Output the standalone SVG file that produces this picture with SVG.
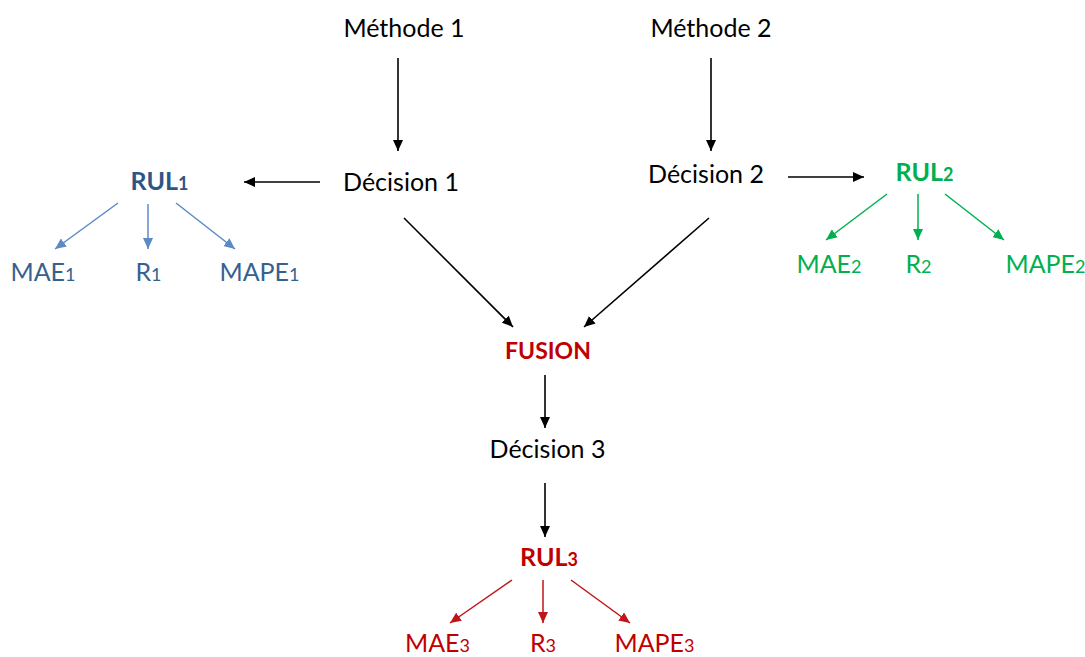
<svg xmlns="http://www.w3.org/2000/svg" width="1085" height="657" viewBox="0 0 1085 657">
<style>
text{font-family:Lato,"Open Sans","Noto Sans",sans-serif;font-size:25px;text-anchor:middle}
.b{font-weight:bold}
.k{fill:#000}
.blue{fill:#2F5587}
.blue2{fill:#35618F}
.green{fill:#00B050}
.red{fill:#C00000}
.s{font-size:18px}
.f{font-size:23px}
.ck{stroke:#000;stroke-width:1.6;fill:none;marker-end:url(#ak)}
.cb{stroke:#5B8AC4;stroke-width:1.5;fill:none;marker-end:url(#ab)}
.cg{stroke:#00B050;stroke-width:1.5;fill:none;marker-end:url(#ag)}
.cr{stroke:#C0141A;stroke-width:1.5;fill:none;marker-end:url(#ar)}
</style>
<defs>
<marker id="ak" markerUnits="userSpaceOnUse" markerWidth="12" markerHeight="10" refX="11" refY="5" orient="auto"><path d="M0,0 L11,5 L0,10 Z" fill="#000"/></marker>
<marker id="ab" markerUnits="userSpaceOnUse" markerWidth="12" markerHeight="10" refX="11" refY="5" orient="auto"><path d="M0,0 L11,5 L0,10 Z" fill="#5B8AC4"/></marker>
<marker id="ag" markerUnits="userSpaceOnUse" markerWidth="12" markerHeight="10" refX="11" refY="5" orient="auto"><path d="M0,0 L11,5 L0,10 Z" fill="#00B050"/></marker>
<marker id="ar" markerUnits="userSpaceOnUse" markerWidth="12" markerHeight="10" refX="11" refY="5" orient="auto"><path d="M0,0 L11,5 L0,10 Z" fill="#C0141A"/></marker>
</defs>
<g id="connectors">
<line class="ck" x1="398" y1="58" x2="398" y2="151"/>
<line class="ck" x1="711" y1="58" x2="711" y2="151"/>
<line class="ck" x1="320" y1="182" x2="244" y2="182"/>
<line class="ck" x1="788" y1="177" x2="864" y2="177"/>
<line class="ck" x1="404" y1="218" x2="513" y2="327"/>
<line class="ck" x1="709" y1="218" x2="584" y2="327"/>
<line class="ck" x1="545" y1="375" x2="545" y2="428"/>
<line class="ck" x1="545" y1="483" x2="545" y2="537"/>
<line class="cb" x1="118" y1="203" x2="55" y2="249"/>
<line class="cb" x1="148" y1="204" x2="148" y2="249"/>
<line class="cb" x1="176" y1="203" x2="235" y2="249"/>
<line class="cg" x1="887" y1="194" x2="826" y2="240"/>
<line class="cg" x1="918" y1="194" x2="918" y2="240"/>
<line class="cg" x1="945" y1="194" x2="1004" y2="240"/>
<line class="cr" x1="512" y1="580" x2="450" y2="623"/>
<line class="cr" x1="543" y1="580" x2="543" y2="623"/>
<line class="cr" x1="571" y1="580" x2="630" y2="623"/>
</g>
<g id="methode1"><text class="k" x="404" y="37">Méthode 1</text></g>
<g id="methode2"><text class="k" x="711" y="37">Méthode 2</text></g>
<g id="decision1"><text class="k" x="401" y="191">Décision 1</text></g>
<g id="decision2"><text class="k" x="706" y="183">Décision 2</text></g>
<g id="rul1"><text class="b blue" x="159.5" y="190">RUL<tspan class="s">1</tspan></text></g>
<g id="mae1"><text class="blue2" x="43" y="281">MAE<tspan class="s">1</tspan></text></g>
<g id="r1"><text class="blue2" x="148.5" y="281">R<tspan class="s">1</tspan></text></g>
<g id="mape1"><text class="blue2" x="259.5" y="281">MAPE<tspan class="s">1</tspan></text></g>
<g id="rul2"><text class="b green" x="924.5" y="181">RUL<tspan class="s">2</tspan></text></g>
<g id="mae2"><text class="green" x="829" y="273">MAE<tspan class="s">2</tspan></text></g>
<g id="r2"><text class="green" x="918.5" y="273">R<tspan class="s">2</tspan></text></g>
<g id="mape2"><text class="green" x="1045.5" y="273">MAPE<tspan class="s">2</tspan></text></g>
<g id="fusion"><text class="b red f" x="548" y="359">FUSION</text></g>
<g id="decision3"><text class="k" x="547.5" y="458">Décision 3</text></g>
<g id="rul3"><text class="b red" x="549" y="566">RUL<tspan class="s">3</tspan></text></g>
<g id="mae3"><text class="red" x="437.5" y="652">MAE<tspan class="s">3</tspan></text></g>
<g id="r3"><text class="red" x="543" y="652">R<tspan class="s">3</tspan></text></g>
<g id="mape3"><text class="red" x="654.5" y="652">MAPE<tspan class="s">3</tspan></text></g>
</svg>
